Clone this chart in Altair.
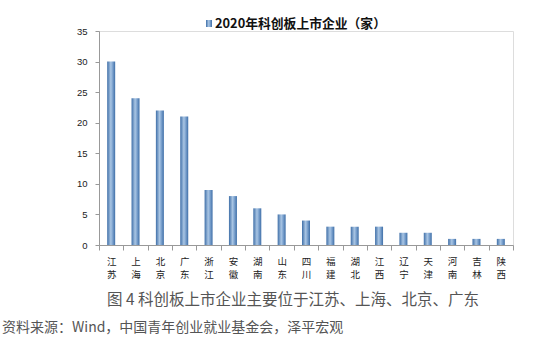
import altair as alt
import pandas as pd

provinces = ["江苏", "上海", "北京", "广东", "浙江", "安徽", "湖南", "山东", "四川",
             "福建", "湖北", "江西", "辽宁", "天津", "河南", "吉林", "陕西"]
counts = [30, 24, 22, 21, 9, 8, 6, 5, 4, 3, 3, 3, 2, 2, 1, 1, 1]
y_ticks = [0, 5, 10, 15, 20, 25, 30, 35]
legend_label = "2020年科创板上市企业（家）"
caption = "图 4 科创板上市企业主要位于江苏、上海、北京、广东"
source = "资料来源：Wind，中国青年创业就业基金会，泽平宏观"

df = pd.DataFrame({"province": provinces, "count": counts})

W, H = 414, 214
grad = alt.Gradient(
    gradient="linear", x1=0, x2=1, y1=0, y2=0,
    stops=[alt.GradientStop(color="#3f6fa8", offset=0),
           alt.GradientStop(color="#a9c5e3", offset=0.45),
           alt.GradientStop(color="#8db0d8", offset=0.6),
           alt.GradientStop(color="#3f6fa8", offset=1)])

bars = alt.Chart(df).mark_bar(fill=grad, size=8).encode(
    x=alt.X("province:N", sort=provinces, title=None,
            scale=alt.Scale(paddingInner=0, paddingOuter=0),
            axis=alt.Axis(labelAngle=0, labelExpr="split(datum.label, '')",
                          labelFont="Noto Sans CJK SC", labelFontSize=9.5,
                          labelColor="#222", labelLineHeight=13, labelPadding=6,
                          tickBand="extent", tickSize=5, tickColor="#999",
                          domainColor="#999", labelBaseline="top")),
    y=alt.Y("count:Q", title=None,
            scale=alt.Scale(domain=[0, 35], nice=False),
            axis=alt.Axis(values=y_ticks, grid=False, tickSize=4, tickColor="#999",
                          domainColor="#999", labelFont="Liberation Sans",
                          labelFontSize=9.5, labelColor="#222", labelPadding=8)),
)

legend_df = pd.DataFrame({"t": [legend_label]})
leg_sq = alt.Chart(legend_df).mark_rect(fill=grad).encode(
    x=alt.value(107), x2=alt.value(113), y=alt.value(-11), y2=alt.value(-4))
leg_txt = alt.Chart(legend_df).mark_text(
    align="left", baseline="middle", font="Noto Sans CJK SC", fontSize=12.8,
    fontWeight="bold", color="#111").encode(
    x=alt.value(116), y=alt.value(-7), text="t:N")

cap_df = pd.DataFrame({"t": [caption]})
cap = alt.Chart(cap_df).mark_text(
    align="left", baseline="middle", font="Noto Sans CJK SC", fontSize=15.5,
    color="#555").encode(x=alt.value(8), y=alt.value(269), text="t:N")

src_df = pd.DataFrame({"t": [source]})
src = alt.Chart(src_df).mark_text(
    align="left", baseline="middle", font="Noto Sans CJK SC", fontSize=14,
    color="#555").encode(x=alt.value(-97), y=alt.value(297), text="t:N")

chart = alt.layer(bars, leg_sq, leg_txt, cap, src).properties(
    width=W, height=H,
    autosize=alt.AutoSizeParams(type="none"),
    padding={"left": 99, "top": 31, "right": 20, "bottom": 107},
).configure_view(stroke=None).configure(background="white")

chart.save("out.html", embed_options={"renderer": "svg", "actions": False})
